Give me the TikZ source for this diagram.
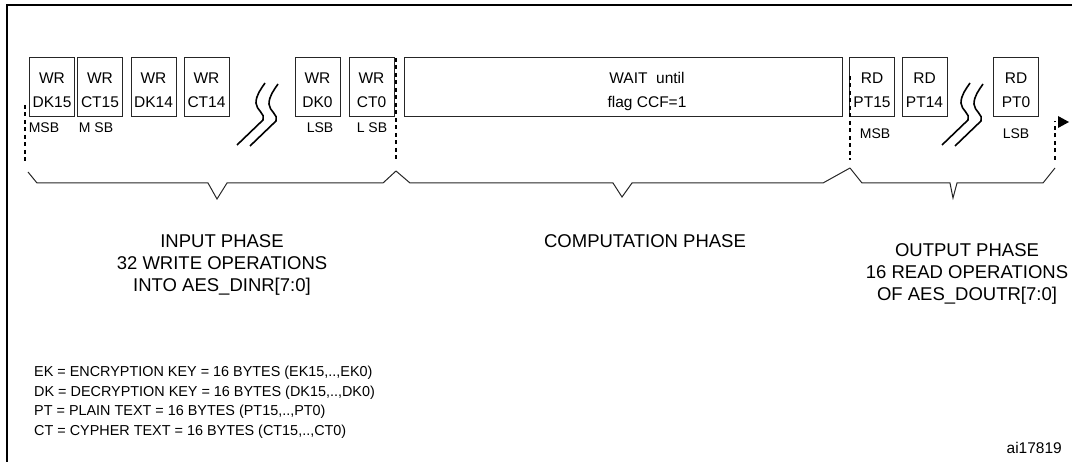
\documentclass[tikz,border=0pt]{standalone}
\usepackage{fontspec}
\setmainfont{Liberation Sans}
\usetikzlibrary{arrows.meta}
\begin{document}
\begin{tikzpicture}[x=1pt,y=-1pt,
  opbox/.style={draw=black!85, line width=0.9pt, minimum width=45pt, minimum height=59pt, inner sep=0pt},
  boxtxt/.style={font=\fontsize{15.5}{24}\selectfont, align=center, inner sep=0pt},
  bitlbl/.style={font=\fontsize{14}{16}\selectfont, inner sep=0pt},
  phase/.style={font=\fontsize{18.5}{22}\selectfont, align=center, inner sep=0pt},
  legend/.style={font=\fontsize{14.4}{19.5}\selectfont, align=left, inner sep=0pt, anchor=west},
  frame/.style={line width=2pt, black},
  guide/.style={line width=1.6pt, dash pattern=on 4pt off 3.5pt, black},
  bracep/.style={line width=1pt, black!85, line join=miter},
  brk/.style={line width=1.6pt, black}]
\useasboundingbox (0,0) rectangle (1072,462);

% frame
\draw[frame] (1075,5) -- (7,5) -- (7,465);

% write boxes
\node[opbox] (b1) at (52,86.5) {};
\node[opbox] (b2) at (100,86.5) {};
\node[opbox] (b3) at (153.5,86.5) {};
\node[opbox] (b4) at (206.5,86.5) {};
\node[opbox] (b5) at (317.5,86.5) {};
\node[opbox] (b6) at (371.5,86.5) {};
\node[opbox, minimum width=438pt] (wait) at (623,86.5) {};
\node[opbox] (p15) at (872,86.5) {};
\node[opbox] (p14) at (924.5,86.5) {};
\node[opbox] (p0) at (1016,86.5) {};

\node[boxtxt] (t1) at ([yshift=-3.5pt]b1.center) {WR\\DK15};
\node[boxtxt] (t2) at ([yshift=-3.5pt]b2.center) {WR\\CT15};
\node[boxtxt] (t3) at ([yshift=-3.5pt]b3.center) {WR\\DK14};
\node[boxtxt] (t4) at ([yshift=-3.5pt]b4.center) {WR\\CT14};
\node[boxtxt] (t5) at ([yshift=-3.5pt]b5.center) {WR\\DK0};
\node[boxtxt] (t6) at ([yshift=-3.5pt]b6.center) {WR\\CT0};
\node[boxtxt] (tw) at (647,91) {WAIT\ \ until\\flag CCF=1};
\node[boxtxt] (tp15) at ([yshift=-3.5pt]p15.center) {RD\\PT15};
\node[boxtxt] (tp14) at ([yshift=-3.5pt]p14.center) {RD\\PT14};
\node[boxtxt] (tp0) at ([yshift=-3.5pt]p0.center) {RD\\PT0};

% MSB / LSB labels
\node[bitlbl] (m1) at (44,128) {MSB};
\node[bitlbl] (m2) at (96,128) {M SB};
\node[bitlbl] (l1) at (320,128) {LSB};
\node[bitlbl] (l2) at (372,128) {L SB};
\node[bitlbl] (m3) at (875,134) {MSB};
\node[bitlbl] (l3) at (1016,134) {LSB};

% break marks
\newcommand{\zzbreak}[2]{%
  \draw[brk] (#1,#2) -- ++(26,-25) .. controls +(3,-6) and +(0,7) .. ++(-7,-17)
     .. controls +(0,-8) and +(-4,6) .. ++(9,-20);}
\zzbreak{237}{145}
\zzbreak{250}{146}
\zzbreak{942}{145}
\zzbreak{955}{146}

% dashed guide lines
\coordinate (g1a) at (25,105);  \coordinate (g1b) at (25,162);
\coordinate (g2a) at (396,58);  \coordinate (g2b) at (396,160);
\coordinate (g3a) at (850,76);  \coordinate (g3b) at (850,160);
\coordinate (g4a) at (1055,121); \coordinate (g4b) at (1055,160);
\draw[guide] (g1a) -- (g1b);
\draw[guide] (g2a) -- (g2b);
\draw[guide] (g3a) -- (g3b);
\draw[guide] (g4b) -- (g4a);
\fill[black] (1058,116) -- (1069,122) -- (1058,128) -- cycle;

% braces
\draw[bracep] (28,172) -- (37,183) -- (208,183) -- (217,199) -- (227,183) -- (383,183) -- (396,171);
\draw[bracep] (396,171) -- (410,183) -- (613,183) -- (622,197) -- (632,183) -- (823,183) -- (850,168);
\draw[bracep] (850,168) -- (862,183) -- (950,183) -- (953,198) -- (957,183) -- (1043,183) -- (1055,168);

% phase texts
\node[phase] (inph) at (222,264.5) {INPUT PHASE\\32 WRITE OPERATIONS\\INTO AES\_DINR[7:0]};
\node[phase] (cph) at (645,241) {COMPUTATION PHASE};
\node[phase] (outph) at (967,273.5) {OUTPUT PHASE\\16 READ OPERATIONS\\OF AES\_DOUTR[7:0]};

% legend
\node[legend] (leg) at (34,402.5) {EK = ENCRYPTION KEY = 16 BYTES (EK15,..,EK0)\\
DK = DECRYPTION KEY = 16 BYTES (DK15,..,DK0)\\
PT = PLAIN TEXT = 16 BYTES (PT15,..,PT0)\\
CT = CYPHER TEXT = 16 BYTES (CT15,..,CT0)};

\node[font=\fontsize{15.5}{18}\selectfont, anchor=east, inner sep=0pt] (tag) at (1062,448) {ai17819};
\end{tikzpicture}
\end{document}
